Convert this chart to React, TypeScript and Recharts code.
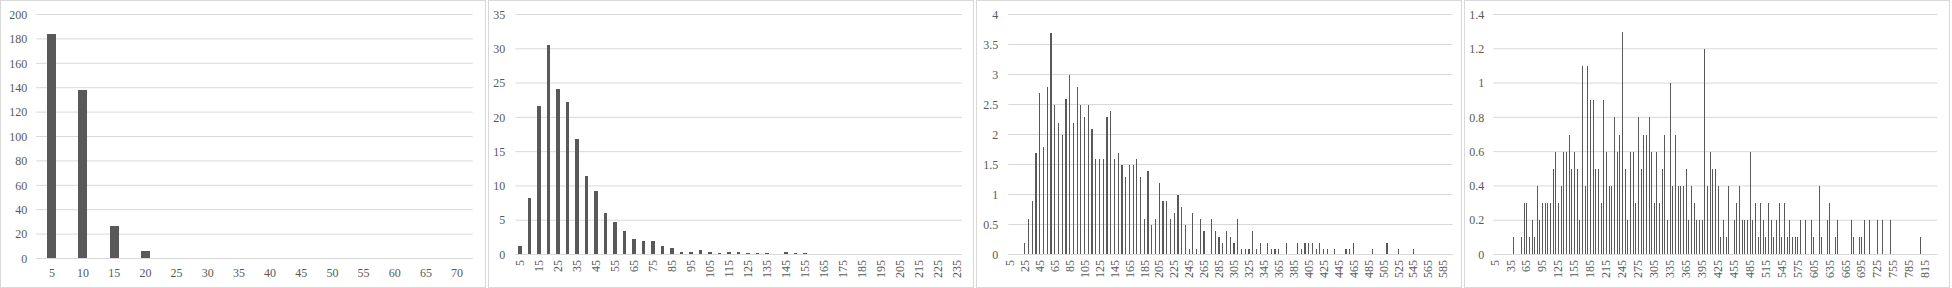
import React from 'react';
import { BarChart, Bar, XAxis, YAxis, CartesianGrid } from 'recharts';

// ---------- Panel 1 ----------
const cats1 = [5, 10, 15, 20, 25, 30, 35, 40, 45, 50, 55, 60, 65, 70];
const vals1 = [184, 138, 27, 6, 0, 0, 0, 0, 0, 0, 0, 0, 0, 0];
const yTicks1 = [0, 20, 40, 60, 80, 100, 120, 140, 160, 180, 200];

// ---------- Panel 2 ----------
const cats2 = [
  5, 10, 15, 20, 25, 30, 35, 40, 45, 50, 55, 60, 65, 70, 75, 80, 85, 90, 95, 100,
  105, 110, 115, 120, 125, 130, 135, 140, 145, 150, 155, 160, 165, 170, 175, 180, 185, 190, 195, 200,
  205, 210, 215, 220, 225, 230, 235,
];
const vals2 = [
  1.3, 8.3, 21.6, 30.5, 24.2, 22.2, 16.8, 11.5, 9.2, 6.1, 4.7, 3.4, 2.2, 1.9, 1.9, 1.2, 1.0, 0.4, 0.4, 0.7,
  0.4, 0.2, 0.4, 0.3, 0.2, 0.2, 0.2, 0, 0.3, 0.2, 0.2, 0, 0, 0, 0, 0, 0.1, 0, 0, 0,
  0, 0, 0, 0, 0, 0, 0,
];
const yTicks2 = [0, 5, 10, 15, 20, 25, 30, 35];

// ---------- Panel 3 ----------
const cats3 = [
  5, 10, 15, 20, 25, 30, 35, 40, 45, 50,
  55, 60, 65, 70, 75, 80, 85, 90, 95, 100,
  105, 110, 115, 120, 125, 130, 135, 140, 145, 150,
  155, 160, 165, 170, 175, 180, 185, 190, 195, 200,
  205, 210, 215, 220, 225, 230, 235, 240, 245, 250,
  255, 260, 265, 270, 275, 280, 285, 290, 295, 300,
  305, 310, 315, 320, 325, 330, 335, 340, 345, 350,
  355, 360, 365, 370, 375, 380, 385, 390, 395, 400,
  405, 410, 415, 420, 425, 430, 435, 440, 445, 450,
  455, 460, 465, 470, 475, 480, 485, 490, 495, 500,
  505, 510, 515, 520, 525, 530, 535, 540, 545, 550,
  555, 560, 565, 570, 575, 580, 585, 590, 595,
];
const vals3 = [
  0, 0, 0, 0, 0.2, 0.6, 0.9, 1.7, 2.7, 1.8,
  2.8, 3.7, 2.5, 2.2, 2.0, 2.6, 3.0, 2.2, 2.8, 2.5,
  2.3, 2.5, 2.1, 1.6, 1.6, 1.6, 2.3, 2.4, 1.6, 1.7,
  1.5, 1.3, 1.5, 1.5, 1.6, 1.3, 0.6, 1.4, 0.5, 0.6,
  1.2, 0.9, 0.9, 0.6, 0.7, 1.0, 0.8, 0.5, 0.1, 0.7,
  0.1, 0.6, 0.4, 0, 0.6, 0.4, 0.3, 0.2, 0.4, 0.3,
  0.2, 0.6, 0.1, 0.1, 0.1, 0.4, 0.1, 0.2, 0, 0.2,
  0.1, 0.1, 0.1, 0, 0.2, 0, 0, 0.2, 0.1, 0.2,
  0.2, 0.2, 0.1, 0.2, 0.1, 0.1, 0, 0.1, 0, 0,
  0.1, 0.1, 0.2, 0, 0, 0, 0, 0.1, 0, 0,
  0, 0.2, 0, 0, 0.1, 0, 0, 0, 0.1, 0,
  0, 0, 0, 0, 0, 0, 0, 0, 0,
];
const yTicks3 = [0, 0.5, 1, 1.5, 2, 2.5, 3, 3.5, 4];

// ---------- Panel 4 ----------
const cats4 = [
  5, 10, 15, 20, 25, 30, 35, 40, 45, 50,
  55, 60, 65, 70, 75, 80, 85, 90, 95, 100,
  105, 110, 115, 120, 125, 130, 135, 140, 145, 150,
  155, 160, 165, 170, 175, 180, 185, 190, 195, 200,
  205, 210, 215, 220, 225, 230, 235, 240, 245, 250,
  255, 260, 265, 270, 275, 280, 285, 290, 295, 300,
  305, 310, 315, 320, 325, 330, 335, 340, 345, 350,
  355, 360, 365, 370, 375, 380, 385, 390, 395, 400,
  405, 410, 415, 420, 425, 430, 435, 440, 445, 450,
  455, 460, 465, 470, 475, 480, 485, 490, 495, 500,
  505, 510, 515, 520, 525, 530, 535, 540, 545, 550,
  555, 560, 565, 570, 575, 580, 585, 590, 595, 600,
  605, 610, 615, 620, 625, 630, 635, 640, 645, 650,
  655, 660, 665, 670, 675, 680, 685, 690, 695, 700,
  705, 710, 715, 720, 725, 730, 735, 740, 745, 750,
  755, 760, 765, 770, 775, 780, 785, 790, 795, 800,
  805, 810, 815, 820, 825, 830, 835,
];
const vals4 = [
  0, 0, 0, 0, 0, 0, 0, 0.1, 0, 0,
  0.1, 0.3, 0.3, 0.1, 0.2, 0.1, 0.4, 0.2, 0.3, 0.3,
  0.3, 0.3, 0.5, 0.6, 0.3, 0.4, 0.6, 0.6, 0.7, 0.5,
  0.6, 0.5, 0.2, 1.1, 0.4, 1.1, 0.9, 0.9, 0.5, 0.5,
  0.3, 0.9, 0.6, 0.4, 0.4, 0.8, 0.6, 0.7, 1.3, 0.5,
  0.2, 0.6, 0.6, 0.3, 0.8, 0.5, 0.7, 0.7, 0.8, 0.6,
  0.3, 0.6, 0.3, 0.5, 0.7, 0.2, 1.0, 0.4, 0.7, 0.4,
  0.4, 0.4, 0.5, 0.2, 0.4, 0.3, 0.2, 0.2, 0.2, 1.2,
  0.4, 0.6, 0.5, 0.5, 0.4, 0.1, 0.2, 0.1, 0.4, 0,
  0.2, 0.3, 0.4, 0.2, 0.2, 0.2, 0.6, 0.2, 0.3, 0.1,
  0.3, 0.2, 0.1, 0.3, 0.2, 0.1, 0.2, 0.3, 0.1, 0.3,
  0.1, 0.2, 0.1, 0.1, 0.1, 0.2, 0, 0.2, 0, 0.2,
  0.1, 0, 0.4, 0.1, 0, 0.2, 0.3, 0, 0.1, 0.2,
  0, 0, 0, 0, 0.2, 0.1, 0, 0.1, 0.1, 0.2,
  0, 0.2, 0, 0, 0.2, 0, 0.2, 0, 0, 0.2,
  0, 0, 0, 0, 0, 0, 0, 0, 0, 0,
  0.1, 0, 0, 0, 0, 0, 0,
];
const yTicks4 = [0, 0.2, 0.4, 0.6, 0.8, 1, 1.2, 1.4];

// ---------- Styling ----------
const FONT = '"Liberation Serif", "Times New Roman", serif';
const TEXT = '#595959';
const GRID = '#d9d9d9';
const BAR = '#595959';
const PANEL_W = 486;
const PANEL_H = 288;

const FlatTick = (props: any) => {
  const { x, y, payload } = props;
  return (
    <text x={x} y={y + 10} textAnchor="middle" fill={TEXT} fontFamily={FONT} fontSize={12}>
      {payload.value}
    </text>
  );
};

const RotTick = (props: any) => {
  const { x, y, payload } = props;
  const ay = y - 2.5;
  return (
    <text
      x={x}
      y={ay}
      dy="0.33em"
      transform={`rotate(-90, ${x}, ${ay})`}
      textAnchor="end"
      fill={TEXT}
      fontFamily={FONT}
      fontSize={12}
    >
      {payload.value}
    </text>
  );
};

type PanelProps = {
  cats: number[];
  vals: number[];
  yTicks: number[];
  yWidth: number;
  right: number;
  xHeight: number;
  interval: number;
  rotated: boolean;
  barSize: number;
  tickMargin: number;
  left: number;
};

function Panel(p: PanelProps) {
  const rows = p.cats.map((c, i) => ({ cat: String(c), v: p.vals[i] }));
  const yMax = p.yTicks[p.yTicks.length - 1];
  return (
    <div style={{ position: 'absolute', left: p.left, top: 0, width: PANEL_W, height: PANEL_H }}>
      <BarChart
        width={PANEL_W}
        height={PANEL_H}
        data={rows}
        margin={{ top: 14.5, right: p.right, bottom: 0, left: 0 }}
        barCategoryGap={0}
      >
        <CartesianGrid vertical={false} stroke={GRID} />
        <XAxis
          dataKey="cat"
          type="category"
          interval={p.interval}
          height={p.xHeight}
          tickLine={false}
          axisLine={{ stroke: GRID }}
          tick={p.rotated ? <RotTick /> : <FlatTick />}
        />
        <YAxis
          type="number"
          domain={[0, yMax]}
          ticks={p.yTicks}
          width={p.yWidth}
          axisLine={false}
          tickLine={false}
          tickMargin={p.tickMargin}
          interval={0}
          tick={{ fill: TEXT, fontSize: 12, fontFamily: FONT }}
        />
        <Bar
          dataKey="v"
          fill={BAR}
          barSize={p.barSize}
          isAnimationActive={false}
          shapeRendering="crispEdges"
        />
      </BarChart>
      <div
        style={{
          position: 'absolute',
          left: 0,
          top: 0,
          width: PANEL_W,
          height: PANEL_H,
          boxSizing: 'border-box',
          border: `1px solid ${GRID}`,
          pointerEvents: 'none',
        }}
      />
    </div>
  );
}

export default function App() {
  return (
    <div
      style={{
        position: 'absolute',
        left: 0,
        top: 0,
        width: 1952,
        height: 288,
        background: '#ffffff',
        overflow: 'hidden',
      }}
    >
      <Panel left={0} cats={cats1} vals={vals1} yTicks={yTicks1} yWidth={36.3} right={13.3} xHeight={29.5} interval={0} rotated={false} barSize={9} tickMargin={3} />
      <Panel left={488} cats={cats2} vals={vals2} yTicks={yTicks2} yWidth={27.3} right={12} xHeight={33.5} interval={1} rotated={true} barSize={3.2} tickMargin={4} />
      <Panel left={976} cats={cats3} vals={vals3} yTicks={yTicks3} yWidth={32.3} right={9.3} xHeight={33.5} interval={3} rotated={true} barSize={1.2} tickMargin={4} />
      <Panel left={1464} cats={cats4} vals={vals4} yTicks={yTicks4} yWidth={29.3} right={12.7} xHeight={33.5} interval={5} rotated={true} barSize={1} tickMargin={3} />
    </div>
  );
}
